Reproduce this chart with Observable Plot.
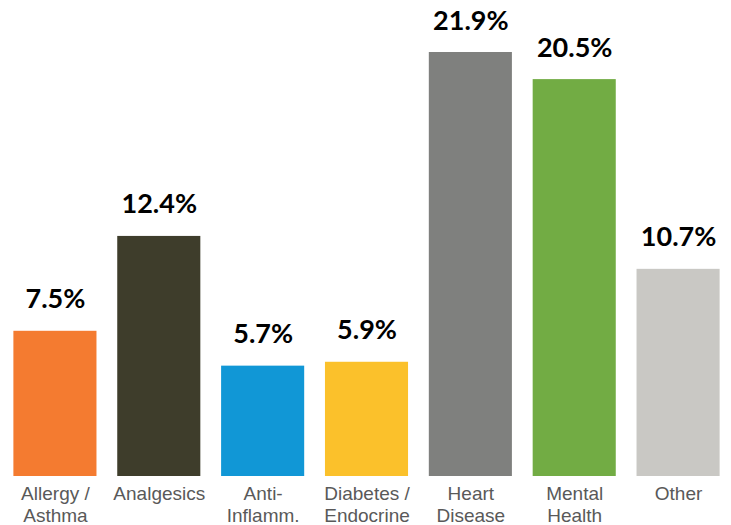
<!DOCTYPE html>
<html>
<head>
<meta charset="utf-8">
<script src="https://cdn.jsdelivr.net/npm/d3@7"></script>
<script src="https://cdn.jsdelivr.net/npm/@observablehq/plot@0.6"></script>
<style>
  html, body { margin: 0; padding: 0; background: #fff; }
  #chart { width: 731px; height: 525px; }
</style>
</head>
<body>
<div id="chart"></div>
<script>
const categories = ["Allergy / Asthma", "Analgesics", "Anti- Inflamm.", "Diabetes / Endocrine", "Heart Disease", "Mental Health", "Other"];
const labels = ["Allergy /\nAsthma", "Analgesics", "Anti-\nInflamm.", "Diabetes /\nEndocrine", "Heart\nDisease", "Mental\nHealth", "Other"];
const values = [7.5, 12.4, 5.7, 5.9, 21.9, 20.5, 10.7];
const colors = ["#f47b30", "#3e3d2b", "#1197d6", "#fbc12b", "#7f807e", "#72ac44", "#c9c8c4"];

const data = categories.map((c, i) => ({ category: c, label: labels[i], value: values[i], color: colors[i] }));

const chart = Plot.plot({
  width: 731,
  height: 525,
  marginLeft: 3,
  marginRight: 1,
  marginTop: 52,
  marginBottom: 49,
  x: { domain: categories, paddingInner: 0.2, paddingOuter: 0.1, round: false, axis: null },
  y: { domain: [0, 21.9], axis: null },
  marks: [
    Plot.barY(data, { x: "category", y: "value", fill: "color" }),
    Plot.text(data, {
      x: "category", y: "value", text: d => d.value.toFixed(1) + "%",
      lineAnchor: "bottom", dy: -23,
      fontFamily: "Lato", fontWeight: "bold", fontSize: 27, fill: "#000"
    }),
    Plot.text(data, {
      x: "category", y: 0, text: "label",
      lineAnchor: "top", dy: 8, lineHeight: 1.15,
      fontFamily: "Liberation Sans, Arial, sans-serif", fontSize: 19, fill: "#595959"
    })
  ]
});
document.getElementById("chart").appendChild(chart);
</script>
</body>
</html>
